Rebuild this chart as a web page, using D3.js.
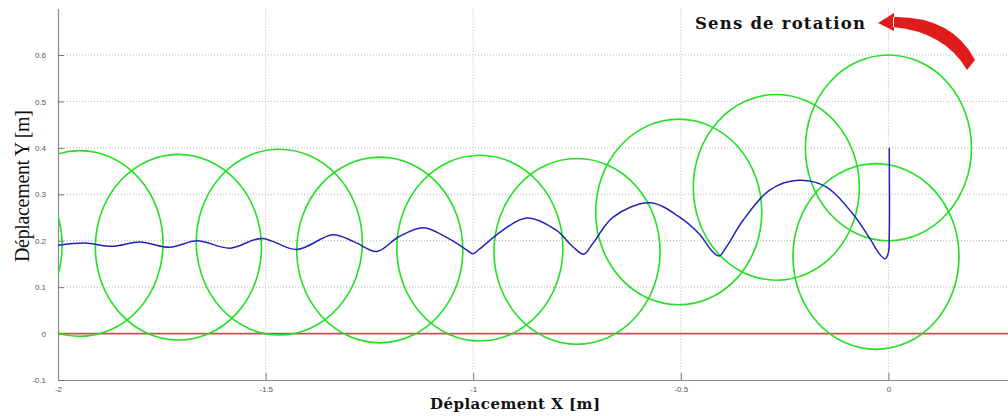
<!DOCTYPE html>
<html><head><meta charset="utf-8">
<script src="https://cdn.jsdelivr.net/npm/d3@7"></script>
<style>body{margin:0;background:#fff}svg{display:block}</style>
</head><body>
<svg id="c" width="1008" height="416"></svg>
<script>
// ---- data ----
const xTicks = [-2, -1.5, -1, -0.5, 0];
const xTickLabels = ["-2", "-1.5", "-1", "-0.5", "0"];
const yTicks = [-0.1, 0, 0.1, 0.2, 0.3, 0.4, 0.5, 0.6];
const yTickLabels = ["-0.1", "0", "0.1", "0.2", "0.3", "0.4", "0.5", "0.6"];

// wheel positions (circles)
const circleX = [0.0, -0.03, -0.27, -0.505, -0.75, -0.984, -1.225, -1.467, -1.71, -1.947, -2.19];
const circleY = [0.40, 0.166, 0.315, 0.262, 0.177, 0.184, 0.180, 0.197, 0.186, 0.194, 0.19];
const circleR = [0.20, 0.20, 0.20, 0.20, 0.20, 0.20, 0.20, 0.20, 0.20, 0.20, 0.20];

// trajectory (blue)
const trajX = [-2.0, -1.935, -1.87, -1.803, -1.73, -1.665, -1.586, -1.509, -1.425, -1.338, -1.285, -1.232, -1.18, -1.12, -1.06, -1.015, -1.001, -0.985, -0.93, -0.871, -0.80, -0.76, -0.734, -0.712, -0.663, -0.575, -0.503, -0.455, -0.425, -0.408, -0.39, -0.35, -0.286, -0.218, -0.15, -0.086, -0.045, -0.022, -0.008, 0.0, 0.002, 0.002];
const trajY = [0.190, 0.195, 0.188, 0.197, 0.186, 0.200, 0.184, 0.205, 0.181, 0.213, 0.197, 0.177, 0.208, 0.228, 0.205, 0.180, 0.172, 0.182, 0.222, 0.249, 0.2226, 0.187, 0.171, 0.194, 0.251, 0.282, 0.251, 0.214, 0.178, 0.167, 0.187, 0.244, 0.309, 0.330, 0.316, 0.258, 0.205, 0.172, 0.161, 0.175, 0.21, 0.40];

const groundY = [0];

// ---- layout ----
const svg = d3.select("#c");
const x = d3.scaleLinear().domain([-2, 0.3]).range([58, 1013]);
const y = d3.scaleLinear().domain([-0.1, 0.7]).range([380, 8.6]);

svg.append("defs").append("clipPath").attr("id", "clip")
  .append("rect").attr("x", 58).attr("y", 0).attr("width", 1008 - 58).attr("height", 380);

// gridlines
const grid = svg.append("g");
grid.selectAll("line.v").data(xTicks.slice(1)).join("line")
  .attr("x1", d => x(d)).attr("x2", d => x(d)).attr("y1", y(0.7)).attr("y2", y(-0.1))
  .attr("stroke", "#b8b8b8").attr("stroke-width", 1).attr("stroke-dasharray", "1,2");
grid.selectAll("line.h").data(yTicks.slice(1)).join("line")
  .attr("x1", x(-2)).attr("x2", 1008).attr("y1", d => y(d)).attr("y2", d => y(d))
  .attr("stroke", "#b8b8b8").attr("stroke-width", 1).attr("stroke-dasharray", "1,2");

// axes
const xAxis = d3.axisBottom(x).tickValues(xTicks).tickFormat((d, i) => xTickLabels[i]).tickSizeInner(-7).tickSizeOuter(0).tickPadding(10);
const gx = svg.append("g").attr("transform", `translate(0,${y(-0.1)})`).call(xAxis);
const yAxis = d3.axisLeft(y).tickValues(yTicks).tickFormat((d, i) => yTickLabels[i]).tickSizeInner(-6).tickSizeOuter(0).tickPadding(12);
const gy = svg.append("g").attr("transform", `translate(${x(-2)},0)`).call(yAxis);
[gx, gy].forEach(g => {
  g.select(".domain").attr("stroke", "#8a8a8a").attr("stroke-width", 1.2);
  g.selectAll(".tick line").attr("stroke", "#777").attr("stroke-width", 1);
  g.selectAll(".tick text").attr("fill", "#555").attr("font-family", "Liberation Sans, Arial, sans-serif").attr("font-size", 8);
});
gx.selectAll(".tick text").attr("dy", "0.3em");

// ground line (red)
svg.selectAll("line.ground").data(groundY).join("line")
  .attr("x1", x(-2)).attr("x2", 1008).attr("y1", d => y(d)).attr("y2", d => y(d))
  .attr("stroke", "#c25450").attr("stroke-width", 1.6);

// circles
const plot = svg.append("g").attr("clip-path", "url(#clip)");
plot.selectAll("ellipse").data(circleX).join("ellipse")
  .attr("cx", d => x(d)).attr("cy", (d, i) => y(circleY[i]))
  .attr("rx", (d, i) => x(circleR[i]) - x(0)).attr("ry", (d, i) => y(0) - y(circleR[i]))
  .attr("fill", "none").attr("stroke", "#22e022").attr("stroke-width", 1.6);

// trajectory
const line = d3.line().x(d => x(d[0])).y(d => y(d[1])).curve(d3.curveCatmullRom.alpha(0.5));
plot.append("path").datum(trajX.map((v, i) => [v, trajY[i]]))
  .attr("d", line).attr("fill", "none").attr("stroke", "#2323b8").attr("stroke-width", 1.5);

// axis labels
svg.append("text").attr("x", 430).attr("y", 409)
  .attr("font-family", "DejaVu Serif, serif").attr("font-weight", "bold").attr("font-size", 15)
  .attr("textLength", 170).attr("lengthAdjust", "spacing")
  .attr("fill", "#111").text("Déplacement X [m]");
svg.append("text").attr("transform", "translate(29,262) rotate(-90)")
  .attr("font-family", "Liberation Serif, serif").attr("font-size", 20)
  .attr("textLength", 152).attr("lengthAdjust", "spacing")
  .attr("fill", "#111").text("Déplacement Y [m]");

// annotation
svg.append("text").attr("x", 695).attr("y", 29)
  .attr("font-family", "DejaVu Serif, serif").attr("font-weight", "bold").attr("font-size", 16.5)
  .attr("textLength", 170).attr("lengthAdjust", "spacing")
  .attr("fill", "#111").text("Sens de rotation");
svg.append("path")
  .attr("d", "M893,17 Q952,16 975,60 L967,70 Q945,32 893,27 Z M894,13 L878,23 L894,31 Z")
  .attr("fill", "#e01b1b");
</script>
</body></html>
